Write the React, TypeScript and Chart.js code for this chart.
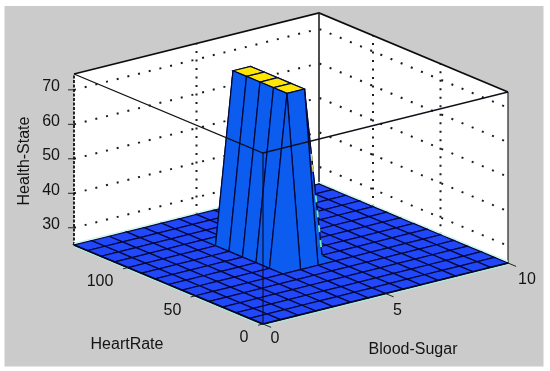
import React, { useEffect, useRef } from "react";
import { Chart, registerables } from "chart.js";

Chart.register(...registerables);

const bloodSugarTicks = [0, 5, 10];
const heartRateTicks = [0, 50, 100];
const healthStateTicks = [30, 40, 50, 60, 70];

const bloodSugarMax = 10;
const heartRateMax = 140;
const healthMin = 25;
const healthMax = 74.6;

// Health-State on a 15 x 15 grid; rows = HeartRate (0..140), columns = Blood-Sugar (0..10)
const healthGrid = [
  [25, 25, 25, 25, 25, 25, 25, 25, 25, 25, 25, 25, 25, 25, 25],
  [25, 25, 25, 25, 25, 25, 25, 25, 25, 25, 25, 25, 25, 25, 25],
  [25, 25, 25, 25, 25, 25, 25, 25, 25, 25, 25, 25, 25, 25, 25],
  [25, 25, 25, 25, 25, 25, 25, 25, 25, 25, 25, 25, 25, 25, 25],
  [25, 25, 25, 25, 25, 25, 25, 25, 25, 25, 25, 25, 25, 25, 25],
  [25, 25, 25, 25, 25, 25, 25, 25, 25, 25, 25, 25, 25, 25, 25],
  [25, 25, 25, 25, 25, 25, 74.5, 74.5, 25, 25, 25, 25, 25, 25, 25],
  [25, 25, 25, 25, 25, 25, 74.5, 74.5, 25, 25, 25, 25, 25, 25, 25],
  [25, 25, 25, 25, 25, 25, 74.5, 74.5, 25, 25, 25, 25, 25, 25, 25],
  [25, 25, 25, 25, 25, 25, 74.5, 74.5, 25, 25, 25, 25, 25, 25, 25],
  [25, 25, 25, 25, 25, 25, 74.5, 74.5, 25, 25, 25, 25, 25, 25, 25],
  [25, 25, 25, 25, 25, 25, 25, 25, 25, 25, 25, 25, 25, 25, 25],
  [25, 25, 25, 25, 25, 25, 25, 25, 25, 25, 25, 25, 25, 25, 25],
  [25, 25, 25, 25, 25, 25, 25, 25, 25, 25, 25, 25, 25, 25, 25],
  [25, 25, 25, 25, 25, 25, 25, 25, 25, 25, 25, 25, 25, 25, 25],
];

const xTitle = "Blood-Sugar";
const yTitle = "HeartRate";
const zTitle = "Health-State";

// axonometric projection of the plot box onto the page
function project(x: number, y: number, z: number) {
  const u = x / bloodSugarMax;
  const v = y / heartRateMax;
  const w = (z - healthMin) / (healthMax - healthMin);
  return {
    x: 263 + 245 * u - 189 * v,
    y: 324 - 61 * u - 79 * v - 171 * w,
  };
}

function surfaceColor(zs: number[]) {
  const avg = zs.reduce((a, b) => a + b, 0) / zs.length;
  if (avg > 70) return "#ffe600";
  if (avg > healthMin + 0.01) return "#0c5cf0";
  return "#2048fa";
}

function polyLine(points: { x: number; y: number }[], color: string, width: number, dash: number[] = []) {
  return {
    data: points,
    showLine: true,
    fill: false,
    borderColor: color,
    borderWidth: width,
    borderDash: dash,
    pointRadius: 0,
    tension: 0,
    borderCapStyle: "butt",
    borderJoinStyle: "miter",
    clip: false,
  };
}

function polygon(points: { x: number; y: number }[], fillColor: string, edge: string, width: number) {
  return {
    ...polyLine(points, edge, width),
    fill: "shape",
    backgroundColor: fillColor,
  };
}

function shifted(p: { x: number; y: number }, dy: number) {
  return { x: p.x, y: p.y + dy };
}

function buildDatasets() {
  const list: any[] = []; // painter's order: first = furthest back
  const xm = bloodSugarMax;
  const ym = heartRateMax;
  const z0 = healthMin;
  const z1 = healthMax;

  // white back walls
  list.push(
    polygon(
      [project(0, ym, z0), project(0, ym, z1), project(xm, ym, z1), project(xm, 0, z1), project(xm, 0, z0), project(xm, ym, z0)],
      "#ffffff",
      "rgba(0,0,0,0)",
      0
    )
  );

  const dots = "#1c1c1c";
  for (const z of healthStateTicks) {
    list.push(polyLine([project(0, ym, z), project(xm, ym, z), project(xm, 0, z)], dots, 2, [2, 9]));
  }
  for (const x of bloodSugarTicks.slice(1, 2)) {
    list.push(polyLine([project(x, ym, z0), project(x, ym, z1)], dots, 2, [2, 6.5]));
  }
  for (const y of heartRateTicks.slice(1)) {
    list.push(polyLine([project(xm, y, z0), project(xm, y, z1)], dots, 2, [2, 6.5]));
  }

  // back box edges
  list.push(polyLine([project(0, ym, z1), project(xm, ym, z1), project(xm, 0, z1)], "#0c0c0c", 1.8));
  list.push(polyLine([project(xm, ym, z1), project(xm, ym, z0)], "#222222", 1.6));
  list.push(polyLine([project(0, ym, z0), project(0, ym, z1)], "#111111", 1.8, [3, 1.5]));
  list.push(polyLine([project(xm, 0, z0), project(xm, 0, z1)], "#222222", 1.2));

  // pale rim around the floor
  list.push(polyLine([shifted(project(0, ym, z0), -1.6), shifted(project(xm, ym, z0), -1.6), shifted(project(xm, 0, z0), -1.6)], "#c8f6ee", 1.4));
  list.push(polyLine([shifted(project(0, ym, z0), 1.8), shifted(project(0, 0, z0), 1.8), shifted(project(xm, 0, z0), 1.8)], "#a8ecdc", 1.2));

  const nx = healthGrid[0].length;
  const ny = healthGrid.length;
  const gx = (i: number) => (i / (nx - 1)) * bloodSugarMax;
  const gy = (j: number) => (j / (ny - 1)) * heartRateMax;

  // surface, back to front
  for (let j = ny - 2; j >= 0; j--) {
    for (let i = nx - 2; i >= 0; i--) {
      const zs = [healthGrid[j][i], healthGrid[j][i + 1], healthGrid[j + 1][i + 1], healthGrid[j + 1][i]];
      list.push(
        polygon(
          [
            project(gx(i), gy(j), zs[0]),
            project(gx(i + 1), gy(j), zs[1]),
            project(gx(i + 1), gy(j + 1), zs[2]),
            project(gx(i), gy(j + 1), zs[3]),
            project(gx(i), gy(j), zs[0]),
          ],
          surfaceColor(zs),
          "#020838",
          1.2
        )
      );
    }
  }

  // coloured flecks down the right flank of the peak
  const flankTop = project(gx(7), gy(6), 74.5);
  const flankFoot = project(gx(8), gy(6), 25);
  const along = (t: number) => ({
    x: flankTop.x + (flankFoot.x - flankTop.x) * t,
    y: flankTop.y + (flankFoot.y - flankTop.y) * t,
  });
  list.push(polyLine([along(0.39), along(0.52)], "#e0d470", 1.6, [7, 4]));
  list.push(polyLine([along(0.64), along(1)], "#6ef0b0", 1.8, [7, 8]));

  // front box edges over the surface
  list.push(polyLine([project(0, ym, z1), project(0, 0, z1), project(xm, 0, z1)], "#101018", 1.3));
  list.push(polyLine([project(0, 0, z0), project(0, 0, z1)], "#101028", 1.2));
  list.push(polyLine([project(0, ym, z0), project(0, 0, z0), project(xm, 0, z0)], "#060620", 1.8));

  // tick marks
  for (const z of healthStateTicks) {
    const p = project(0, ym, z);
    list.push(polyLine([p, { x: p.x - 6, y: p.y }], "#222222", 1));
  }
  for (const x of bloodSugarTicks) {
    list.push(polyLine([project(x, 0, z0), project(x, -6, z0)], "#222222", 1));
  }
  for (const y of heartRateTicks) {
    list.push(polyLine([project(0, y, z0), project(-0.2, y, z0)], "#222222", 1));
  }
  return list.reverse();
}

const backdrop = {
  id: "backdrop",
  beforeDatasetsDraw(chart: any) {
    const { ctx } = chart;
    ctx.save();
    ctx.fillStyle = "#cbcbcb";
    ctx.fillRect(4.5, 6, 539, 360.5);
    ctx.restore();
  },
};

const labels3d = {
  id: "labels3d",
  afterDatasetsDraw(chart: any) {
    const { ctx } = chart;
    ctx.save();
    ctx.fillStyle = "#141414";
    ctx.font = '16px "Liberation Sans"';
    ctx.textBaseline = "middle";
    ctx.textAlign = "right";
    for (const z of healthStateTicks) {
      const p = project(0, heartRateMax, z);
      ctx.fillText(String(z), 60, p.y - 3);
    }
    ctx.textAlign = "center";
    const yOff: Record<number, [number, number]> = { 0: [-19, 14], 50: [-23, 15], 100: [-28, 14] };
    for (const y of heartRateTicks) {
      const p = project(0, y, healthMin);
      ctx.fillText(String(y), p.x + yOff[y][0], p.y + yOff[y][1]);
    }
    const xOff: Record<number, [number, number]> = { 0: [12, 15], 5: [12, 17], 10: [19, 17] };
    for (const x of bloodSugarTicks) {
      const p = project(x, 0, healthMin);
      ctx.fillText(String(x), p.x + xOff[x][0], p.y + xOff[x][1]);
    }
    ctx.fillText(yTitle, 127, 345);
    ctx.fillText(xTitle, 413, 350);
    ctx.translate(25, 161);
    ctx.rotate(-Math.PI / 2);
    ctx.fillText(zTitle, 0, 0);
    ctx.restore();
  },
};

export default function App() {
  const ref = useRef<HTMLCanvasElement>(null);
  useEffect(() => {
    document.body.style.margin = "0";
    const chart = new Chart(ref.current as HTMLCanvasElement, {
      type: "scatter",
      data: { datasets: buildDatasets() },
      options: {
        animation: false,
        responsive: false,
        layout: { padding: 0 },
        scales: {
          x: { type: "linear", min: 0, max: 550, display: false },
          y: { type: "linear", min: 0, max: 371, reverse: true, display: false },
        },
        plugins: { legend: { display: false }, tooltip: { enabled: false } },
      },
      plugins: [backdrop, labels3d],
    } as any);
    return () => chart.destroy();
  }, []);
  return (
    <canvas
      ref={ref}
      width={550}
      height={371}
      style={{ display: "block", width: 550, height: 371, filter: "blur(0.5px)" }}
    />
  );
}
